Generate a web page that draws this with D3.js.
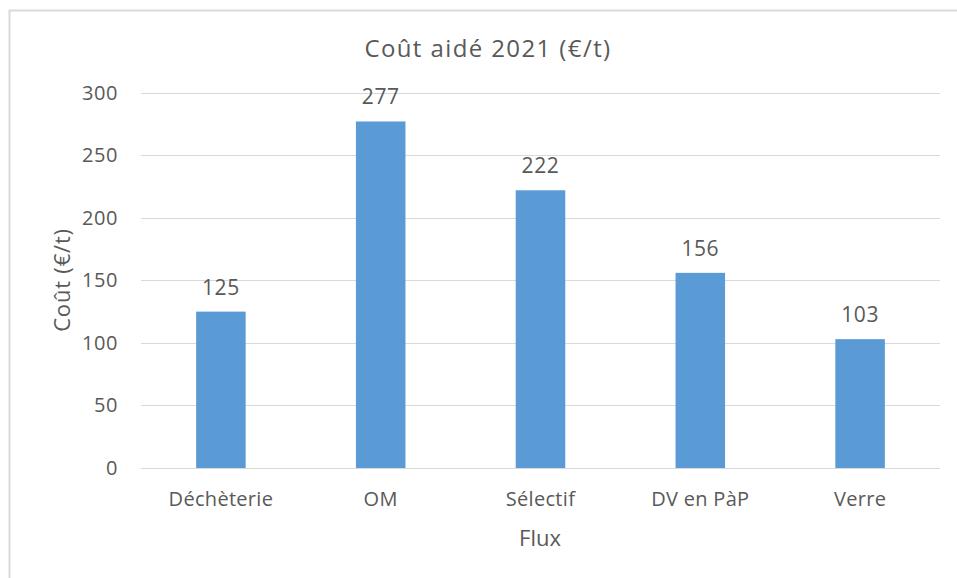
<!DOCTYPE html>
<html>
<head>
<meta charset="utf-8">
<script src="https://cdn.jsdelivr.net/npm/d3@7"></script>
<style>
  body { margin: 0; background: #fff; }
  svg text { font-family: "Open Sans", "Noto Sans", sans-serif; fill: #595959; }
</style>
</head>
<body>
<div id="chart"></div>
<script>
// chart data
const categories = ["Déchèterie", "OM", "Sélectif", "DV en PàP", "Verre"];
const values = [125, 277, 222, 156, 103];
const yTicks = [0, 50, 100, 150, 200, 250, 300];

const width = 957;
const height = 578;
const plot = { left: 141, right: 940, top: 92.7, bottom: 468 };
const fontFamily = '"Open Sans", "Noto Sans", sans-serif';

const svg = d3
    .select("#chart")
    .append("svg")
    .attr("width", width)
    .attr("height", height);

// outer frame (left and top edges visible)
svg.append("path")
    .attr("d", `M9.5,${height} V10.5 H${width}`)
    .attr("fill", "none")
    .attr("stroke", "#d9d9d9")
    .attr("stroke-width", 2);

const x = d3
    .scaleBand()
    .domain(categories)
    .range([plot.left, plot.right])
    .paddingInner(0.69)
    .paddingOuter(0.345);

const y = d3.scaleLinear().domain([0, 300]).range([plot.bottom, plot.top]);

// gridlines
svg.append("g")
    .selectAll("line")
    .data(yTicks)
    .enter()
    .append("line")
    .attr("x1", plot.left)
    .attr("x2", plot.right)
    .attr("y1", (d) => Math.round(y(d)) + 0.5)
    .attr("y2", (d) => Math.round(y(d)) + 0.5)
    .attr("stroke", "#d9d9d9")
    .attr("stroke-width", 1);

// y tick labels
const yAxis = svg.append("g")
    .attr("transform", `translate(${plot.left},0)`)
    .call(d3.axisLeft(y).tickValues(yTicks).tickSize(0).tickPadding(23));
yAxis.select(".domain").remove();
yAxis.selectAll("text")
    .attr("font-size", 20)
    .attr("letter-spacing", 0.6)
    .attr("fill", "#595959")
    .style("font-family", fontFamily);

// x tick labels
const xAxis = svg.append("g")
    .attr("transform", `translate(0,${plot.bottom})`)
    .call(d3.axisBottom(x).tickSize(0).tickPadding(24));
xAxis.select(".domain").remove();
xAxis.selectAll("text")
    .attr("font-size", 20)
    .attr("letter-spacing", 0.3)
    .attr("fill", "#595959")
    .style("font-family", fontFamily);

// bars
svg.append("g")
    .selectAll("rect")
    .data(values)
    .enter()
    .append("rect")
    .attr("x", (d, i) => x(categories[i]))
    .attr("y", (d) => y(d))
    .attr("width", x.bandwidth())
    .attr("height", (d) => y(0) - y(d))
    .attr("fill", "#5b9bd5");

// value labels
svg.append("g")
    .selectAll("text")
    .data(values)
    .enter()
    .append("text")
    .attr("x", (d, i) => x(categories[i]) + x.bandwidth() / 2)
    .attr("y", (d) => y(d) - 17)
    .attr("text-anchor", "middle")
    .attr("font-size", 21)
    .attr("letter-spacing", 0.6)
    .text((d) => d);

// title
svg.append("text")
    .attr("x", 488)
    .attr("y", 57)
    .attr("text-anchor", "middle")
    .attr("font-size", 24)
    .attr("letter-spacing", 1.4)
    .text("Coût aidé 2021 (€/t)");

// axis titles
svg.append("text")
    .attr("transform", "translate(70,280) rotate(-90)")
    .attr("text-anchor", "middle")
    .attr("font-size", 22)
    .attr("letter-spacing", 0.8)
    .text("Coût (€/t)");

svg.append("text")
    .attr("x", 540)
    .attr("y", 546)
    .attr("text-anchor", "middle")
    .attr("font-size", 22)
    .text("Flux");
</script>
</body>
</html>
